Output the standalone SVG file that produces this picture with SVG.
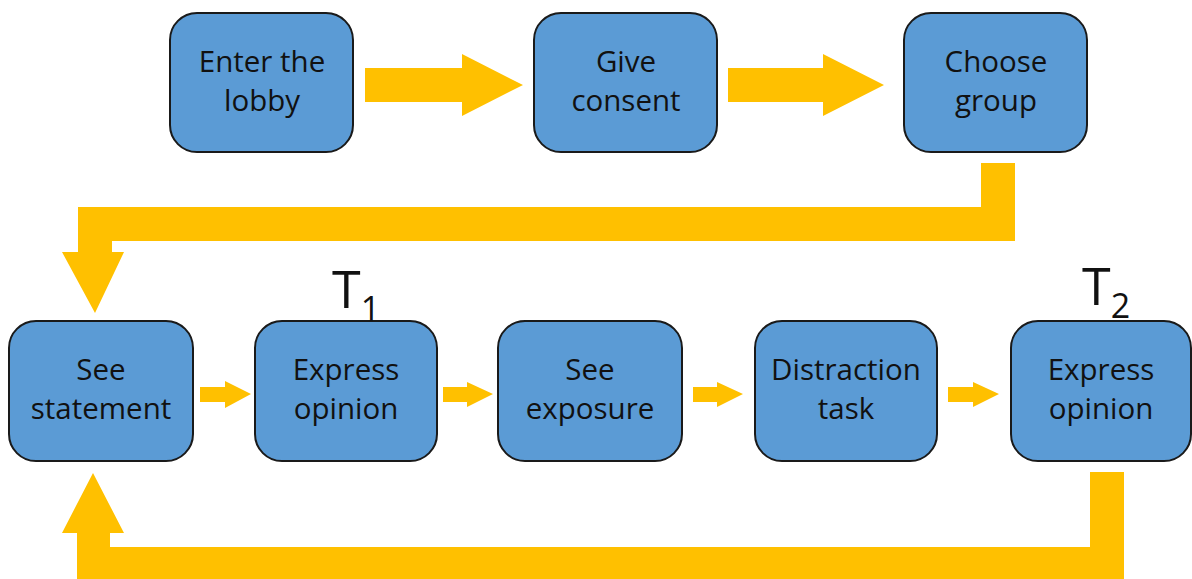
<svg xmlns="http://www.w3.org/2000/svg" width="1192" height="579" viewBox="0 0 1192 579">
  <style>
    .box { fill: #5B9BD5; stroke: #1a1a1a; stroke-width: 2; }
    .lbl { font-family: "Open Sans", "Liberation Sans", sans-serif; font-size: 29.5px; fill: #111; text-anchor: middle; }
    .arrow { fill: #FFC000; }
    .tm { font-family: "Open Sans", "Liberation Sans", sans-serif; fill: #111; font-size: 52px; }
    .sub { font-size: 34px; }
  </style>
  <rect width="1192" height="579" fill="#ffffff"/>

  <!-- connectors -->
  <g id="connectors">
    <!-- top row -->
    <polygon class="arrow" points="365,68 462,68 462,54 523,85 462,116 462,102 365,102"/>
    <polygon class="arrow" points="728,68 823,68 823,54 884,85 823,116 823,102 728,102"/>
    <!-- Choose group down and back to See statement -->
    <polygon class="arrow" points="981,163 1015,163 1015,241 112,241 112,252 124,252 95,313 62,252 78,252 78,207 981,207"/>
    <!-- bottom row -->
    <polygon class="arrow" points="200,387 225,387 225,381 251,394 225,408 225,402 200,402"/>
    <polygon class="arrow" points="443,387 467,387 467,382 493,394 467,407 467,402 443,402"/>
    <polygon class="arrow" points="693,387 717,387 717,382 743,394 717,407 717,402 693,402"/>
    <polygon class="arrow" points="948,387 973,387 973,382 999,394 973,407 973,402 948,402"/>
    <!-- loop from second opinion back to See statement -->
    <polygon class="arrow" points="1090,472 1124,472 1124,579 77,579 77,533 62,533 93,473 124,533 110,533 110,547 1090,547"/>
  </g>

  <g id="enter-lobby">
    <rect class="box" x="170" y="13" width="183" height="139" rx="27"/>
    <text class="lbl" x="262" y="72">Enter the</text>
    <text class="lbl" x="262" y="111">lobby</text>
  </g>
  <g id="give-consent">
    <rect class="box" x="534" y="13" width="183" height="139" rx="27"/>
    <text class="lbl" x="626" y="72">Give</text>
    <text class="lbl" x="626" y="111">consent</text>
  </g>
  <g id="choose-group">
    <rect class="box" x="904" y="13" width="183" height="139" rx="27"/>
    <text class="lbl" x="996" y="72">Choose</text>
    <text class="lbl" x="996" y="111">group</text>
  </g>

  <g id="see-statement">
    <rect class="box" x="9" y="321" width="184" height="140" rx="27"/>
    <text class="lbl" x="101" y="380">See</text>
    <text class="lbl" x="101" y="419">statement</text>
  </g>
  <g id="express-opinion-1">
    <rect class="box" x="255" y="321" width="182" height="140" rx="27"/>
    <text class="lbl" x="346" y="380">Express</text>
    <text class="lbl" x="346" y="419">opinion</text>
    <text class="tm" x="332" y="308">T<tspan class="sub" dy="13">1</tspan></text>
  </g>
  <g id="see-exposure">
    <rect class="box" x="498" y="321" width="184" height="140" rx="27"/>
    <text class="lbl" x="590" y="380">See</text>
    <text class="lbl" x="590" y="419">exposure</text>
  </g>
  <g id="distraction-task">
    <rect class="box" x="755" y="321" width="182" height="140" rx="27"/>
    <text class="lbl" x="846" y="380">Distraction</text>
    <text class="lbl" x="846" y="419">task</text>
  </g>
  <g id="express-opinion-2">
    <rect class="box" x="1011" y="321" width="180" height="140" rx="27"/>
    <text class="lbl" x="1101" y="380">Express</text>
    <text class="lbl" x="1101" y="419">opinion</text>
    <text class="tm" x="1082" y="305">T<tspan class="sub" dy="13">2</tspan></text>
  </g>
</svg>
